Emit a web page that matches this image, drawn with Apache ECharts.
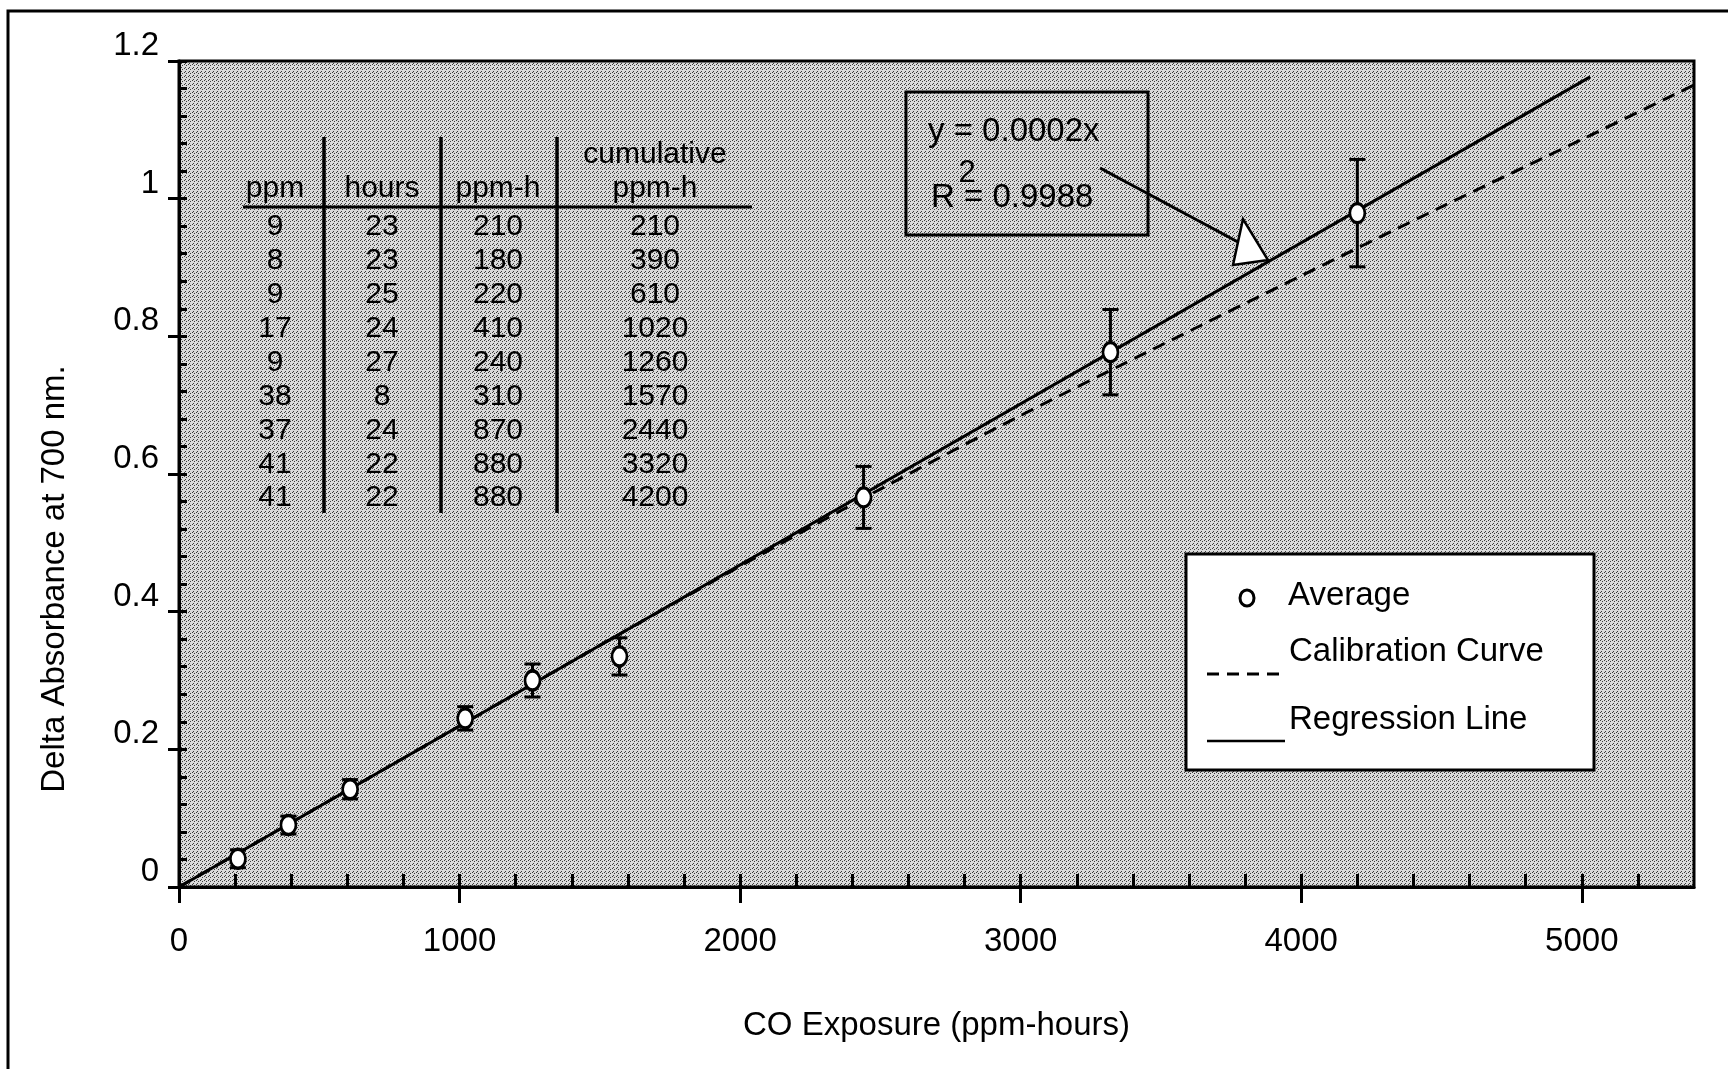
<!DOCTYPE html>
<html>
<head>
<meta charset="utf-8">
<script src="https://cdn.jsdelivr.net/npm/echarts@6/dist/echarts.min.js"></script>
<style>
  html, body { margin: 0; padding: 0; background: #fff; }
  #chart { width: 1728px; height: 1069px; }
</style>
</head>
<body>
<div id="chart"></div>
<script>
// averages with error bars, x = cumulative ppm-h
var avgX = [210, 390, 610, 1020, 1260, 1570, 2440, 3320, 4200];
var avgY = [0.041, 0.090, 0.142, 0.245, 0.300, 0.335, 0.566, 0.777, 0.979];
var avgErr = [0.013, 0.013, 0.014, 0.017, 0.024, 0.027, 0.045, 0.062, 0.078];

// calibration curve (dashed)
var calX = [0, 500, 1000, 1500, 2000, 2500, 3000, 3500, 4000, 4500, 5000, 5400];
var calY = [0, 0.117, 0.234, 0.351, 0.466, 0.578, 0.685, 0.787, 0.888, 0.988, 1.086, 1.165];

// regression line (solid)
var regX = [0, 5030];
var regY = [0, 1.177];

var xTicks = [0, 1000, 2000, 3000, 4000, 5000];
var yTicks = [0, 0.2, 0.4, 0.6, 0.8, 1, 1.2];

// inset table
var tblHead = ['ppm', 'hours', 'ppm-h', 'ppm-h'];
var tblPpm = [9, 8, 9, 17, 9, 38, 37, 41, 41];
var tblHours = [23, 23, 25, 24, 27, 8, 24, 22, 22];
var tblPpmH = [210, 180, 220, 410, 240, 310, 870, 880, 880];
var tblCum = [210, 390, 610, 1020, 1260, 1570, 2440, 3320, 4200];

var FONT = '"Liberation Sans", Arial, Helvetica, sans-serif';

// minor tick positions
var xMinor = [];
for (var i = 1; i <= 26; i++) xMinor.push(i * 200);
var yMinor = [];
for (var j = 1; j <= 30; j++) yMinor.push(Math.round(j * 4) / 100);

// stipple texture for the plot area
var tile = document.createElement('canvas');
tile.width = 4; tile.height = 4;
var tg = tile.getContext('2d');
tg.fillStyle = '#dadada';
tg.fillRect(0, 0, 4, 4);
tg.fillStyle = '#3c3c3c';
[[0, 0], [2, 1], [1, 3]].forEach(function (p) { tg.fillRect(p[0], p[1], 1, 1); });

var chart = echarts.init(document.getElementById('chart'));

function renderErr(params, api) {
  var x = api.value(0), y = api.value(1), e = api.value(2);
  var top = api.coord([x, y + e]);
  var bot = api.coord([x, y - e]);
  var hw = 8;
  var st = { stroke: '#000', lineWidth: 3, fill: 'none' };
  return {
    type: 'group',
    children: [
      { type: 'line', shape: { x1: top[0], y1: top[1], x2: bot[0], y2: bot[1] }, style: st },
      { type: 'line', shape: { x1: top[0] - hw, y1: top[1], x2: top[0] + hw, y2: top[1] }, style: st },
      { type: 'line', shape: { x1: bot[0] - hw, y1: bot[1], x2: bot[0] + hw, y2: bot[1] }, style: st }
    ]
  };
}

function txt(s, x, y, size, align) {
  return {
    type: 'text', z: 10,
    style: {
      text: s, x: x, y: y, fill: '#000',
      font: size + 'px ' + FONT,
      align: align || 'center', verticalAlign: 'middle',
      textAlign: align || 'center', textVerticalAlign: 'middle'
    }
  };
}
function seg(x1, y1, x2, y2, w, dash) {
  return {
    type: 'line', z: 10,
    shape: { x1: x1, y1: y1, x2: x2, y2: y2 },
    style: { stroke: '#000', lineWidth: w, lineDash: dash || null }
  };
}

// table graphics
var tableEls = [];
var colX = [275, 382, 498, 655];
var rowY0 = 227, rowStep = 33.9;
tableEls.push(seg(243, 207, 752, 207, 3));
[324, 441, 557].forEach(function (x) { tableEls.push(seg(x, 137, x, 513, 3.5)); });
tableEls.push(txt('cumulative', colX[3], 155, 30));
tblHead.forEach(function (h, k) { tableEls.push(txt(h, colX[k], 189, 30)); });
[tblPpm, tblHours, tblPpmH, tblCum].forEach(function (col, k) {
  col.forEach(function (v, r) { tableEls.push(txt(String(v), colX[k], rowY0 + r * rowStep, 30)); });
});

// equation box + arrow
var eqEls = [
  { type: 'rect', z: 10, shape: { x: 906, y: 92, width: 242, height: 143 }, style: { fill: 'none', stroke: '#000', lineWidth: 3 } },
  txt('y = 0.0002x', 928, 132, 33, 'left'),
  txt('R = 0.9988', 931, 198, 33, 'left'),
  txt('2', 967, 173, 31),
  seg(1100, 168, 1238, 242, 3),
  { type: 'polygon', z: 11, shape: { points: [[1243, 219], [1233, 265], [1268, 260]] }, style: { fill: '#fff', stroke: '#000', lineWidth: 2.5 } }
];

// legend box
var legEls = [
  { type: 'rect', z: 10, shape: { x: 1186, y: 554, width: 408, height: 216 }, style: { fill: '#fff', stroke: '#000', lineWidth: 3 } },
  { type: 'ellipse', z: 11, shape: { cx: 1247, cy: 598, rx: 7, ry: 8 }, style: { fill: '#fff', stroke: '#000', lineWidth: 3 } },
  txt('Average', 1288, 596, 33, 'left'),
  txt('Calibration Curve', 1289, 652, 33, 'left'),
  seg(1207, 674, 1280, 674, 3, [12, 8]),
  txt('Regression Line', 1289, 720, 33, 'left'),
  seg(1207, 741, 1285, 741, 2.5)
];

// y axis title, placed like the original (below the axis middle)
var yTitle = {
  type: 'text', z: 10, x: 55, y: 579, rotation: Math.PI / 2,
  style: {
    text: 'Delta Absorbance at 700 nm.', x: 0, y: 0, fill: '#000',
    font: '33px ' + FONT,
    align: 'center', verticalAlign: 'middle',
    textAlign: 'center', textVerticalAlign: 'middle'
  }
};

var frame = { type: 'rect', z: 10, shape: { x: 8, y: 11, width: 1800, height: 1200 }, style: { fill: 'none', stroke: '#000', lineWidth: 3 } };

var option = {
  backgroundColor: '#fff',
  animation: false,
  grid: {
    left: 179, top: 61, right: 34, bottom: 182,
    show: true,
    backgroundColor: { image: tile, repeat: 'repeat' },
    borderColor: '#000', borderWidth: 3,
    outerBoundsMode: 'none'
  },
  xAxis: [{
    type: 'value', min: 0, max: 5400, position: 'bottom',
    name: 'CO Exposure (ppm-hours)', nameLocation: 'middle', nameGap: 122,
    nameTextStyle: { fontSize: 33, fontFamily: FONT, color: '#000' },
    axisLine: { show: true, lineStyle: { color: '#000', width: 3 } },
    axisTick: { show: true, inside: false, length: 16, customValues: xTicks, lineStyle: { color: '#000', width: 3 } },
    axisLabel: {
      customValues: xTicks, margin: 38, fontSize: 33, fontFamily: FONT, color: '#000',
      formatter: function (v) { return String(v); }
    },
    splitLine: { show: false }
  }, {
    type: 'value', min: 0, max: 5400, position: 'bottom',
    axisLine: { show: false },
    axisTick: { show: true, inside: true, length: 13, customValues: xMinor, lineStyle: { color: '#000', width: 3 } },
    axisLabel: { show: false },
    splitLine: { show: false }
  }],
  yAxis: [{
    type: 'value', min: 0, max: 1.2, position: 'left',
    axisLine: { show: true, lineStyle: { color: '#000', width: 3 } },
    axisTick: { show: true, inside: false, length: 11, customValues: yTicks, lineStyle: { color: '#000', width: 3 } },
    axisLabel: {
      customValues: yTicks, margin: 20, fontSize: 33, fontFamily: FONT, color: '#000',
      verticalAlign: 'bottom', lineHeight: 30
    },
    splitLine: { show: false }
  }, {
    type: 'value', min: 0, max: 1.2, position: 'left',
    axisLine: { show: false },
    axisTick: { show: true, inside: true, length: 8, customValues: yMinor, lineStyle: { color: '#000', width: 3 } },
    axisLabel: { show: false },
    splitLine: { show: false }
  }],
  series: [{
    name: 'Calibration Curve', type: 'line',
    data: calX.map(function (x, k) { return [x, calY[k]]; }),
    showSymbol: false, smooth: 0.3, z: 2,
    lineStyle: { color: '#000', width: 3, type: [13, 8] }
  }, {
    name: 'Regression Line', type: 'line',
    data: regX.map(function (x, k) { return [x, regY[k]]; }),
    showSymbol: false, z: 3,
    lineStyle: { color: '#000', width: 3 }
  }, {
    name: 'Error', type: 'custom', z: 4,
    data: avgX.map(function (x, k) { return [x, avgY[k], avgErr[k]]; }),
    encode: { x: 0, y: 1 },
    renderItem: renderErr
  }, {
    name: 'Average', type: 'scatter', z: 5,
    data: avgX.map(function (x, k) { return [x, avgY[k]]; }),
    symbol: 'circle', symbolSize: [15, 19],
    itemStyle: { color: '#fff', borderColor: '#000', borderWidth: 3, opacity: 1 }
  }],
  graphic: { elements: [frame, yTitle].concat(tableEls, eqEls, legEls) }
};

chart.setOption(option);
</script>
</body>
</html>
